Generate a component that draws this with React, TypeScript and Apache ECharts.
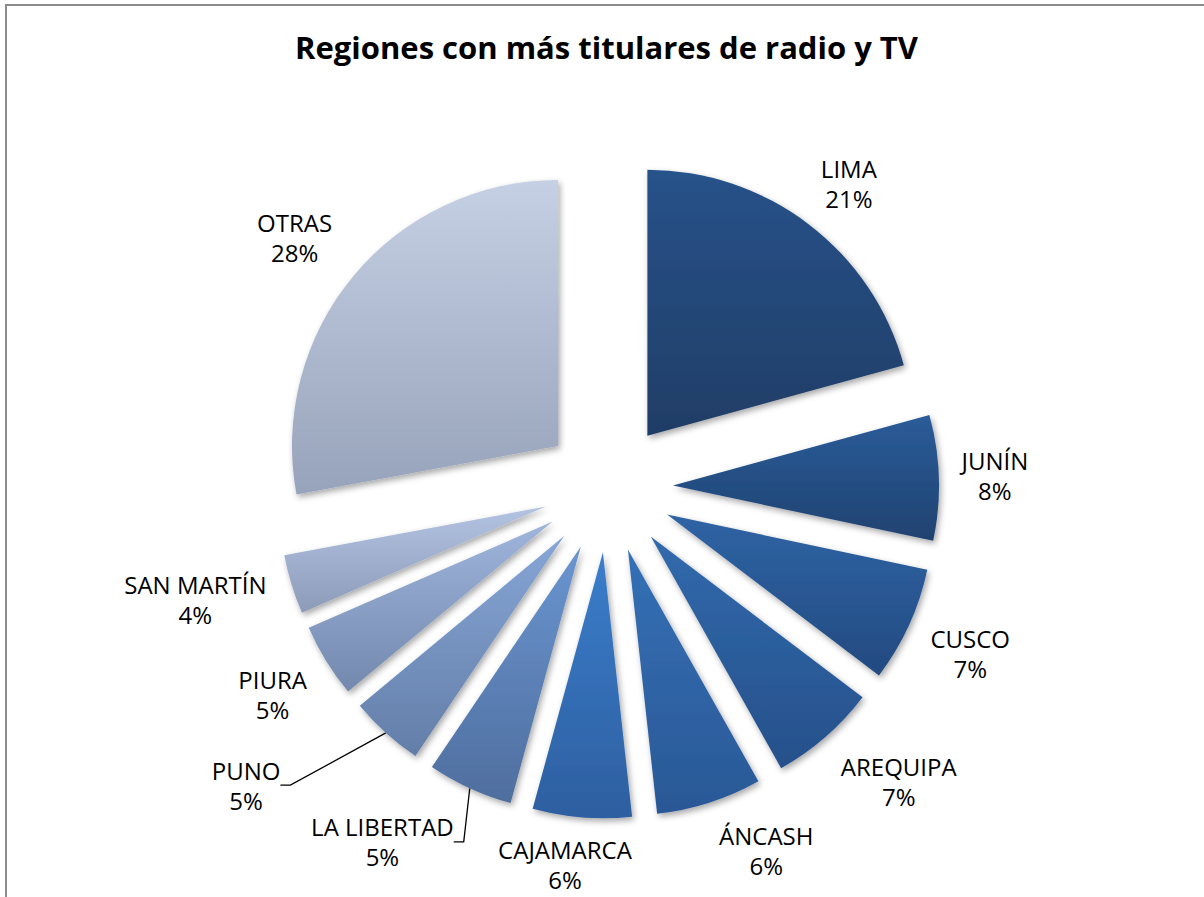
import React, { useEffect, useRef } from 'react';
import * as echarts from 'echarts';

const chartTitle = 'Regiones con más titulares de radio y TV';
const regions = ['LIMA', 'JUNÍN', 'CUSCO', 'AREQUIPA', 'ÁNCASH', 'CAJAMARCA', 'LA LIBERTAD', 'PUNO', 'PIURA', 'SAN MARTÍN', 'OTRAS'];
// shares (%); labels show them rounded
const shares = [20.7, 7.6, 7.0, 6.5, 6.4, 6.0, 5.2, 4.5, 4.5, 3.6, 27.9];
const topColors = ['#28528a', '#2b5c99', '#2f64a5', '#316aad', '#3470b6', '#3b7dcb', '#6a95d0', '#87a6d6', '#9fb5dc', '#b3c3e2', '#c5d0e4'];
const bottomColors = ['#1f3d66', '#1f4270', '#234a80', '#26508a', '#2a5896', '#2d5fa0', '#4f6e9e', '#637ea8', '#7388ad', '#8c9bb8', '#97a3ba'];

const CX = 608;
const CY = 487.5;
const R = 266;
const EXPLODE = 65;
const LABEL_GAP = 22;
// Excel-like "best fit" nudges for labels (degrees turned, extra px outwards)
const labelTweaks: Record<string, { turn: number; extra: number }> = {
  LIMA: { turn: 1.1, extra: 0 },
  AREQUIPA: { turn: -3.6, extra: 4 },
  'ÁNCASH': { turn: -5.7, extra: 4 },
  CAJAMARCA: { turn: 2.0, extra: -3 },
  'LA LIBERTAD': { turn: 7.8, extra: 10 },
  PUNO: { turn: 8.4, extra: 75 },
  'SAN MARTÍN': { turn: 1.9, extra: 0 },
  OTRAS: { turn: -1.1, extra: 5 },
};
const leaderLines = ['LA LIBERTAD', 'PUNO'];

export default function App() {
  const ref = useRef<HTMLDivElement>(null);
  useEffect(() => {
    document.body.style.margin = '0';
    const chart = echarts.init(ref.current as HTMLDivElement, null, { renderer: 'svg' });
    const total = shares.reduce((a, b) => a + b, 0);
    const mids: number[] = [];
    let cum = 0;
    shares.forEach((v) => {
      mids.push(((cum + v / 2) / total) * 360);
      cum += v;
    });

    const labelLayout = (p: any) => {
      const name = regions[p.dataIndex];
      const tw = labelTweaks[name];
      const a = ((mids[p.dataIndex] + (tw ? tw.turn : 0)) * Math.PI) / 180;
      const s = Math.sin(a);
      const c = Math.cos(a);
      const w = p.labelRect.width;
      const h = p.labelRect.height;
      const d = R + EXPLODE + LABEL_GAP + (w / 2) * Math.abs(s) + h * 0.37 * Math.abs(c) + (tw ? tw.extra : 0);
      return { x: CX + d * s, y: CY - d * c, align: 'center', verticalAlign: 'middle' };
    };

    const series = regions.map((name, i) => {
      const a = (mids[i] * Math.PI) / 180;
      const hasLine = leaderLines.includes(name);
      return {
        type: 'pie',
        name,
        center: [CX + EXPLODE * Math.sin(a), CY - EXPLODE * Math.cos(a)],
        radius: R,
        startAngle: 90,
        clockwise: true,
        avoidLabelOverlap: false,
        silent: true,
        emphasis: { disabled: true },
        label: {
          show: true,
          position: 'outside',
          formatter: (p: any) => `${p.name}\n${Math.round(p.value)}%`,
          color: '#000000',
          fontFamily: 'Open Sans',
          fontSize: 24,
          lineHeight: 30,
          align: 'center',
        },
        labelLine: {
          show: hasLine,
          length: 10,
          length2: 10,
          lineStyle: { color: '#000000', width: 1.3 },
        },
        labelLayout,
        data: regions.map((n, j) => ({
          name: n,
          value: shares[j],
          itemStyle:
            j === i
              ? {
                  color: {
                    type: 'linear',
                    x: 0,
                    y: 0,
                    x2: 0,
                    y2: 1,
                    colorStops: [
                      { offset: 0, color: topColors[j] },
                      { offset: 1, color: bottomColors[j] },
                    ],
                  },
                  shadowBlur: 6,
                  shadowOffsetX: 2,
                  shadowOffsetY: 3,
                  shadowColor: 'rgba(0,0,0,0.35)',
                }
              : { color: 'rgba(0,0,0,0)' },
          label: { show: j === i },
          labelLine: { show: j === i && hasLine },
        })),
      };
    });

    chart.setOption({
      animation: false,
      backgroundColor: '#ffffff',
      title: {
        text: chartTitle,
        left: 290,
        top: 26,
        textStyle: { fontFamily: 'Open Sans', fontWeight: 'bold', fontSize: 31, color: '#000000' },
      },
      graphic: [
        {
          type: 'rect',
          silent: true,
          z: -1,
          shape: { x: 6, y: 5, width: 1400, height: 1200 },
          style: { fill: 'none', stroke: '#8c8c8c', lineWidth: 2 },
        },
      ],
      series,
    });
    return () => chart.dispose();
  }, []);
  return <div ref={ref} style={{ width: 1204, height: 897 }} />;
}
